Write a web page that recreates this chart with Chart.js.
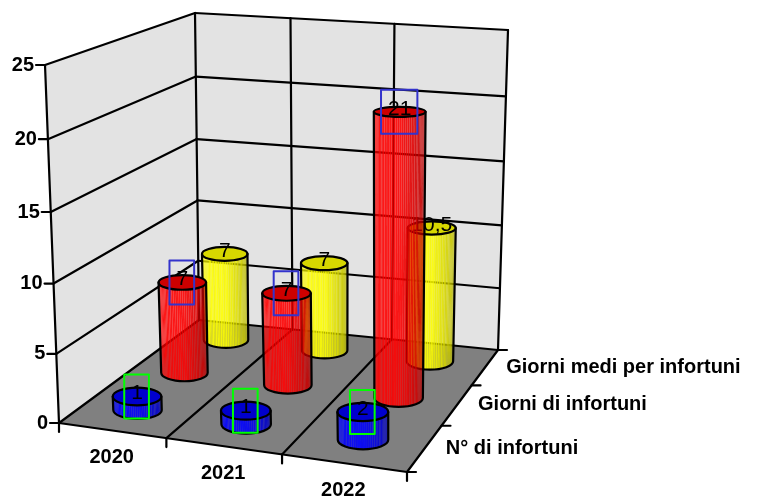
<!DOCTYPE html>
<html><head><meta charset="utf-8">
<style>html,body{margin:0;padding:0;background:#fff}canvas{display:block}</style>
<script src="https://cdn.jsdelivr.net/npm/chart.js@4"></script>
</head><body><canvas id="c" width="763" height="501"></canvas>
<script>
const categories = ['2020','2021','2022'];
const seriesNames = ['N° di infortuni','Giorni di infortuni','Giorni medi per infortuni'];
const seriesCount = [1,1,2];
const seriesDays = [7,7,21];
const seriesAvg = [7,7,10.5];
const valueLabelsAvg = ['7','7','10,5'];
const yTicks = [0,5,10,15,20,25];

// perspective frame of the 3D box
const FLOOR = [[59,423],[407,472],[498,350],[199,320]];
const ROOF  = [[45,65],[407,95],[508,30],[195,13]];
function homography(q){
  const [p00,p10,p11,p01]=q;
  const dx1=p10[0]-p11[0],dx2=p01[0]-p11[0],sx=p00[0]-p10[0]+p11[0]-p01[0];
  const dy1=p10[1]-p11[1],dy2=p01[1]-p11[1],sy=p00[1]-p10[1]+p11[1]-p01[1];
  const den=dx1*dy2-dx2*dy1;
  const g=(sx*dy2-dx2*sy)/den,h=(dx1*sy-sx*dy1)/den;
  const a=p10[0]-p00[0]+g*p10[0],b=p01[0]-p00[0]+h*p01[0],c=p00[0];
  const d=p10[1]-p00[1]+g*p10[1],e=p01[1]-p00[1]+h*p01[1],f=p00[1];
  return (u,w)=>{const k=g*u+h*w+1;return [(a*u+b*w+c)/k,(d*u+e*w+f)/k];};
}
const hF=homography(FLOOR),hR=homography(ROOF);
function proj(u,w,v){
  const t=0.957*v/(1-0.043*v);
  const f=hF(u,w),r=hR(u,w);
  return [f[0]+(r[0]-f[0])*t,f[1]+(r[1]-f[1])*t];
}
const LW=2.2;
function line(ctx,a,b,col,lw){ctx.beginPath();ctx.moveTo(a[0],a[1]);ctx.lineTo(b[0],b[1]);ctx.strokeStyle=col||'#000';ctx.lineWidth=lw||LW;ctx.stroke();}
function poly(ctx,pts,fill){ctx.beginPath();pts.forEach((p,i)=>i?ctx.lineTo(p[0],p[1]):ctx.moveTo(p[0],p[1]));ctx.closePath();ctx.fillStyle=fill;ctx.fill();}

const FONT='bold 20px "Liberation Sans", Arial, sans-serif';
const SERIES_STYLE=[
  {rgb:[0,0,255],cap:[0,0,205],box:'#00ff00'},
  {rgb:[255,0,0],cap:[205,0,0],box:'#3333cc'},
  {rgb:[255,255,0],cap:[215,215,0],box:null}
];

function frac(chart,id,i){const s=chart.scales[id];return (s.getPixelForValue(i)-s.left)/s.width;}
function vfrac(chart,val){const s=chart.scales.y;return (s.bottom-s.getPixelForValue(val))/s.height;}

function drawCylinder(ctx,chart,si,ci){
  const st=SERIES_STYLE[si];
  const val=chart.data.datasets[si].data[ci];
  const u=frac(chart,'x',ci),w=frac(chart,'z',si),v=vfrac(chart,val);
  const b=proj(u,w,0),t=proj(u,w,v);
  const base=21.5+3*(1-w)+1.5*u;
  const rxB=base,rxT=base*(1+0.08*v);
  const ryB=3.5+0.0135*b[1],ryT=3.5+0.0135*t[1];
  const ptB=a=>[b[0]+rxB*Math.cos(a),b[1]+ryB*Math.sin(a)];
  const ptT=a=>[t[0]+rxT*Math.cos(a),t[1]+ryT*Math.sin(a)];
  const col=(c,k,al)=>`rgba(${Math.round(c[0]*k)},${Math.round(c[1]*k)},${Math.round(c[2]*k)},${al})`;
  // cap
  ctx.beginPath();ctx.ellipse(t[0],t[1],rxT,ryT,0,0,Math.PI*2);ctx.fillStyle=col(st.cap,1,1);ctx.fill();
  // value label under the facets
  const txt=si===2?valueLabelsAvg[ci]:String(val);
  ctx.font='21px "Liberation Sans", Arial, sans-serif';ctx.fillStyle='#000';ctx.textAlign='center';ctx.textBaseline='middle';
  ctx.fillText(txt,t[0],t[1]-3);
  // facets
  const n=40;
  for(let i=0;i<n;i++){
    const a0=Math.PI-(i/n)*Math.PI,a1=Math.PI-((i+1)/n)*Math.PI;
    const f=(i+.5)/n;
    let k=f<0.08?0.93:f<0.5?1:1-(f-0.5)*0.7;
    if(i%3===1)k*=0.97;
    poly(ctx,[ptB(a0),ptB(a1),ptT(a1),ptT(a0)],col(st.rgb,k,0.9));
  }
  // outline
  ctx.strokeStyle='#000';ctx.lineWidth=LW;
  ctx.beginPath();ctx.ellipse(t[0],t[1],rxT,ryT,0,0,Math.PI*2);ctx.stroke();
  ctx.beginPath();ctx.moveTo(t[0]-rxT,t[1]);ctx.lineTo(b[0]-rxB,b[1]);
  ctx.ellipse(b[0],b[1],rxB,ryB,0,Math.PI,0,true);
  ctx.lineTo(t[0]+rxT,t[1]);ctx.stroke();
  // label box
  if(st.box){
    const tw=ctx.measureText(txt).width+13,h=44;
    ctx.strokeStyle=st.box;ctx.lineWidth=2;
    ctx.strokeRect(t[0]-tw/2-0.5,t[1]-h/2,tw,h);
  }
}

const box3d={
  id:'box3d',
  beforeDatasetsDraw(chart){
    const ctx=chart.ctx;ctx.save();ctx.lineCap='round';ctx.lineJoin='round';
    const y=yTicks.map(t=>vfrac(chart,t)),vmax=1;
    // walls and floor
    poly(ctx,[proj(0,0,0),proj(0,1,0),proj(0,1,vmax),proj(0,0,vmax)],'#e3e3e3');
    poly(ctx,[proj(0,1,0),proj(1,1,0),proj(1,1,vmax),proj(0,1,vmax)],'#e3e3e3');
    poly(ctx,[proj(0,0,0),proj(1,0,0),proj(1,1,0),proj(0,1,0)],'#808080');
    // value gridlines
    y.forEach(v=>{
      line(ctx,proj(0,0,v),proj(0,1,v));
      line(ctx,proj(0,1,v),proj(1,1,v));
    });
    // category gridlines
    for(let k=1;k<categories.length;k++){
      const u=k/categories.length;
      line(ctx,proj(u,0,0),proj(u,1,0));
      line(ctx,proj(u,1,0),proj(u,1,vmax));
    }
    // frame
    line(ctx,proj(0,0,0),proj(0,0,vmax));
    line(ctx,proj(0,1,0),proj(0,1,vmax));
    line(ctx,proj(1,1,0),proj(1,1,vmax));
    line(ctx,proj(0,0,0),proj(1,0,0));
    line(ctx,proj(1,0,0),proj(1,1,0));
    // axis ticks & labels
    ctx.font=FONT;ctx.fillStyle='#000';ctx.textBaseline='middle';
    ctx.textAlign='right';
    yTicks.forEach((t,i)=>{
      const p=proj(0,0,y[i]);
      line(ctx,p,[p[0]-9,p[1]]);
      ctx.fillText(String(t),p[0]-11,p[1]);
    });
    ctx.textAlign='center';
    for(let k=0;k<=categories.length;k++){
      const p=proj(k/categories.length,0,0);
      line(ctx,p,[p[0],p[1]+9]);
    }
    categories.forEach((c,i)=>{
      const u=frac(chart,'x',i),p=proj(u,0,0);
      ctx.fillText(c,p[0],p[1]+27);
    });
    ctx.textAlign='left';
    for(let k=0;k<=seriesNames.length;k++){
      const p=proj(1,k/seriesNames.length,0);
      line(ctx,p,[p[0]+9,p[1]]);
    }
    seriesNames.forEach((s,i)=>{
      const p=proj(1,frac(chart,'z',i),0);
      ctx.fillText(s,p[0]+21,p[1]);
    });
    ctx.restore();
  },
  afterDatasetsDraw(chart){
    const ctx=chart.ctx;ctx.save();ctx.lineCap='round';ctx.lineJoin='round';
    for(let si=seriesNames.length-1;si>=0;si--){
      for(let ci=0;ci<categories.length;ci++)drawCylinder(ctx,chart,si,ci);
    }
    ctx.restore();
  }
};

new Chart(document.getElementById('c'),{
  type:'bar',
  data:{labels:categories,datasets:[
    {label:seriesNames[0],data:seriesCount,backgroundColor:'transparent'},
    {label:seriesNames[1],data:seriesDays,backgroundColor:'transparent'},
    {label:seriesNames[2],data:seriesAvg,backgroundColor:'transparent'}
  ]},
  options:{
    responsive:false,animation:false,
    layout:{padding:0},
    plugins:{legend:{display:false},tooltip:{enabled:false}},
    scales:{
      x:{display:false,offset:true},
      z:{type:'category',axis:'x',labels:seriesNames,display:false,offset:true},
      y:{display:false,min:0,max:25,ticks:{stepSize:5}}
    }
  },
  plugins:[box3d]
});
</script></body></html>
